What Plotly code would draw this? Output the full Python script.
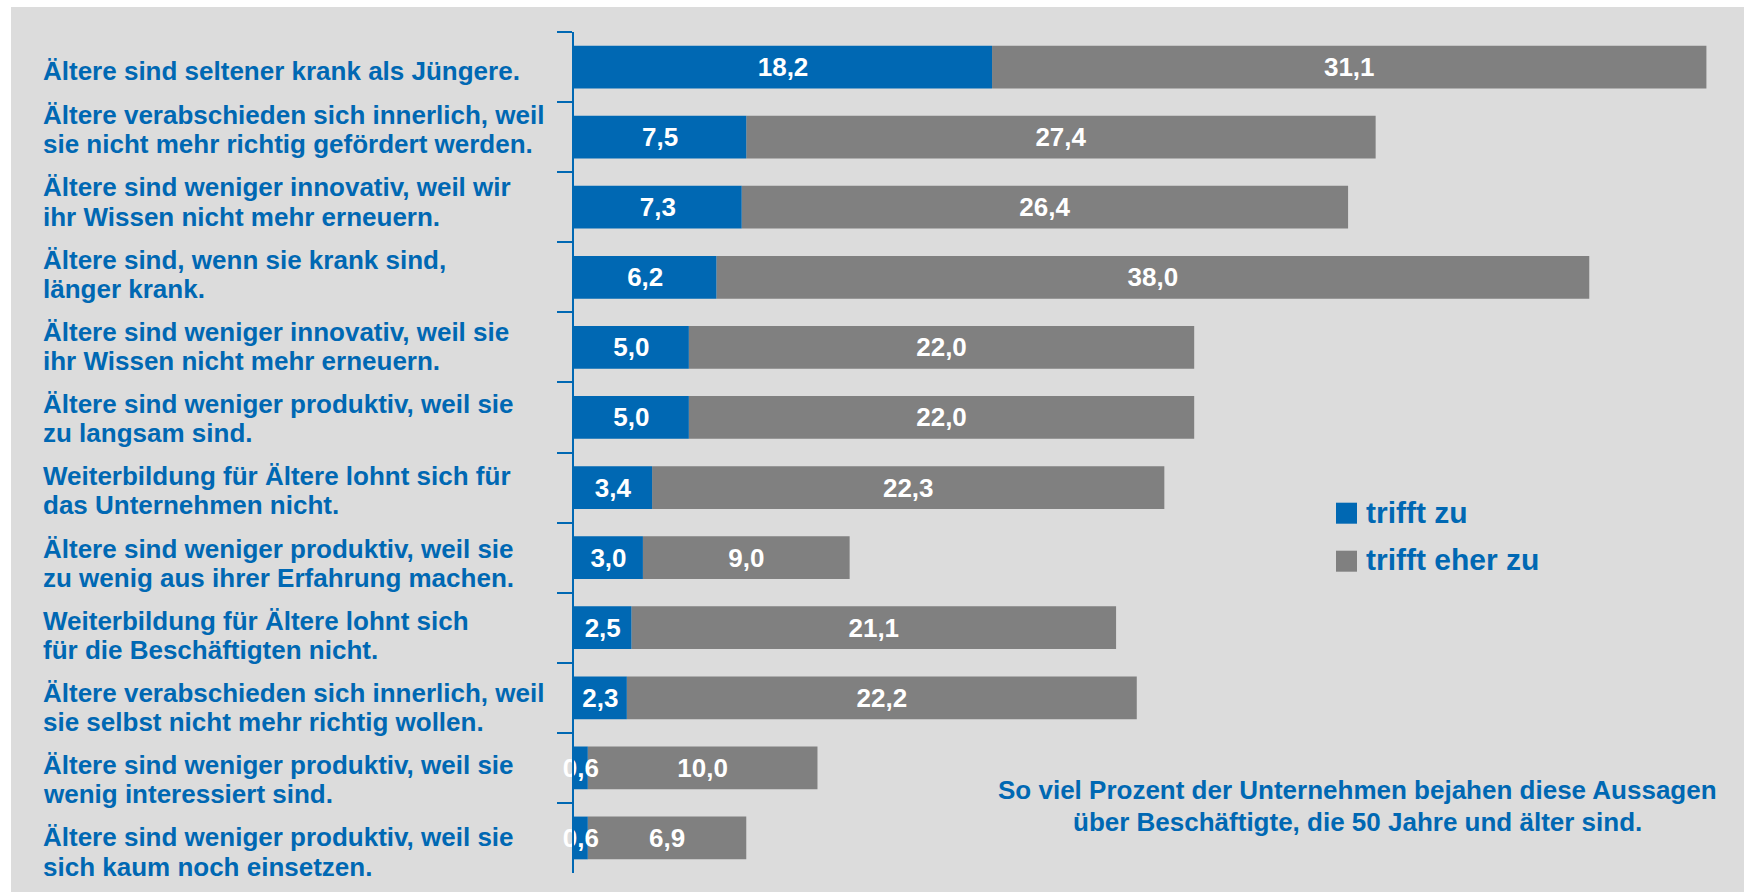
import plotly.graph_objects as go

# Statements (each split into its two printed lines)
line_one = [
    "Ältere sind seltener krank als Jüngere.",
    "Ältere verabschieden sich innerlich, weil",
    "Ältere sind weniger innovativ, weil wir",
    "Ältere sind, wenn sie krank sind,",
    "Ältere sind weniger innovativ, weil sie",
    "Ältere sind weniger produktiv, weil sie",
    "Weiterbildung für Ältere lohnt sich für",
    "Ältere sind weniger produktiv, weil sie",
    "Weiterbildung für Ältere lohnt sich",
    "Ältere verabschieden sich innerlich, weil",
    "Ältere sind weniger produktiv, weil sie",
    "Ältere sind weniger produktiv, weil sie",
]
line_two = [
    "",
    "sie nicht mehr richtig gefördert werden.",
    "ihr Wissen nicht mehr erneuern.",
    "länger krank.",
    "ihr Wissen nicht mehr erneuern.",
    "zu langsam sind.",
    "das Unternehmen nicht.",
    "zu wenig aus ihrer Erfahrung machen.",
    "für die Beschäftigten nicht.",
    "sie selbst nicht mehr richtig wollen.",
    "wenig interessiert sind.",
    "sich kaum noch einsetzen.",
]

# Percent of companies agreeing
trifft_zu = [18.2, 7.5, 7.3, 6.2, 5.0, 5.0, 3.4, 3.0, 2.5, 2.3, 0.6, 0.6]
trifft_eher_zu = [31.1, 27.4, 26.4, 38.0, 22.0, 22.0, 22.3, 9.0, 21.1, 22.2, 10.0, 6.9]

series_names = ["trifft zu", "trifft eher zu"]
note_lines = ["So viel Prozent der Unternehmen bejahen diese Aussagen",
              "über Beschäftigte, die 50 Jahre und älter sind."]

BLUE = "#0068B3"
GREY = "#808080"
BG = "#DCDCDC"
FONT = "Liberation Sans, Arial, sans-serif"

categories = [a + " " + b if b else a for a, b in zip(line_one, line_two)]


def fmt(v):
    return f"{v:.1f}".replace(".", ",")


# Pixel frame of the plotting area
W, H = 1744, 892
L, R, T, B = 574, 0, 32, 19
PW, PH = W - L - R, H - T - B


def px(x):
    return (x - L) / PW


def py(y):
    return (H - B - y) / PH


fig = go.Figure()

# grey segment starts where the blue one ends; blue is drawn last so its
# value text stays on top
fig.add_trace(go.Bar(
    y=categories, x=trifft_eher_zu, base=trifft_zu, orientation="h",
    name=series_names[1], marker=dict(color=GREY, line=dict(width=0)),
    text=[fmt(v) for v in trifft_eher_zu], textposition="inside",
    insidetextanchor="middle", textangle=0, cliponaxis=False,
    textfont=dict(family=FONT, size=26, color="white", weight="bold"),
    showlegend=False, hoverinfo="skip",
))
fig.add_trace(go.Bar(
    y=categories, x=trifft_zu, base=[0] * len(trifft_zu), orientation="h",
    name=series_names[0], marker=dict(color=BLUE, line=dict(width=0)),
    text=[fmt(v) for v in trifft_zu], textposition="inside",
    insidetextanchor="middle", textangle=0, cliponaxis=False,
    textfont=dict(family=FONT, size=26, color="white", weight="bold"),
    showlegend=False, hoverinfo="skip",
))

annotations = []
label_font = dict(family=FONT, size=26, color=BLUE, weight="bold")
for k, (cat, a, b) in enumerate(zip(categories, line_one, line_two)):
    if not b:
        annotations.append(dict(
            x=px(41), xref="paper", y=cat, yref="y", text=a,
            xanchor="left", yanchor="middle", showarrow=False,
            yshift=-4, font=label_font))
        continue
    off = -7.3 + (k - 1) * 2.13
    for txt, d in ((a, off - 14.6), (b, off + 14.6)):
        annotations.append(dict(
            x=px(41), xref="paper", y=cat, yref="y", text=txt,
            xanchor="left", yanchor="middle", showarrow=False,
            yshift=-d, font=label_font))

# legend
legend_font = dict(family=FONT, size=30, color=BLUE, weight="bold")
annotations.append(dict(x=px(1364), y=py(512), xref="paper", yref="paper",
                        text=series_names[0], xanchor="left", yanchor="middle",
                        showarrow=False, font=legend_font))
annotations.append(dict(x=px(1364), y=py(560), xref="paper", yref="paper",
                        text=series_names[1], xanchor="left", yanchor="middle",
                        showarrow=False, font=legend_font))

# explanatory note, one annotation per line
note_font = dict(family=FONT, size=26, color=BLUE, weight="bold")
for txt, yc in zip(note_lines, (789.5, 821.5)):
    annotations.append(dict(x=px(1357), y=py(yc), xref="paper", yref="paper",
                            text=txt, xanchor="center", yanchor="middle",
                            showarrow=False, font=note_font))

shapes = [
    dict(type="rect", xref="paper", yref="paper", layer="below",
         x0=px(11), x1=1.02, y0=-0.05, y1=py(7),
         fillcolor=BG, line=dict(width=0)),
    dict(type="rect", xref="paper", yref="paper",
         x0=px(1336), x1=px(1357), y0=py(523.7), y1=py(502.7),
         fillcolor=BLUE, line=dict(width=0)),
    dict(type="rect", xref="paper", yref="paper",
         x0=px(1336), x1=px(1357), y0=py(571.7), y1=py(550.7),
         fillcolor=GREY, line=dict(width=0)),
]

fig.update_layout(
    width=W, height=H,
    margin=dict(l=L, r=R, t=T, b=B, pad=0),
    paper_bgcolor="white", plot_bgcolor=BG,
    barmode="overlay", bargap=0.39,
    showlegend=False,
    uniformtext=dict(minsize=26, mode="show"),
    annotations=annotations, shapes=shapes,
    xaxis=dict(range=[0, PW / 22.97], visible=False, fixedrange=True),
    yaxis=dict(
        type="category", categoryorder="array", categoryarray=categories,
        autorange="reversed", showticklabels=False, showgrid=False,
        zeroline=False, showline=True, linecolor=BLUE, linewidth=2,
        ticks="outside", tickson="boundaries", ticklen=15, tickwidth=2,
        tickcolor=BLUE, fixedrange=True,
    ),
)

fig.write_html("out.html")
